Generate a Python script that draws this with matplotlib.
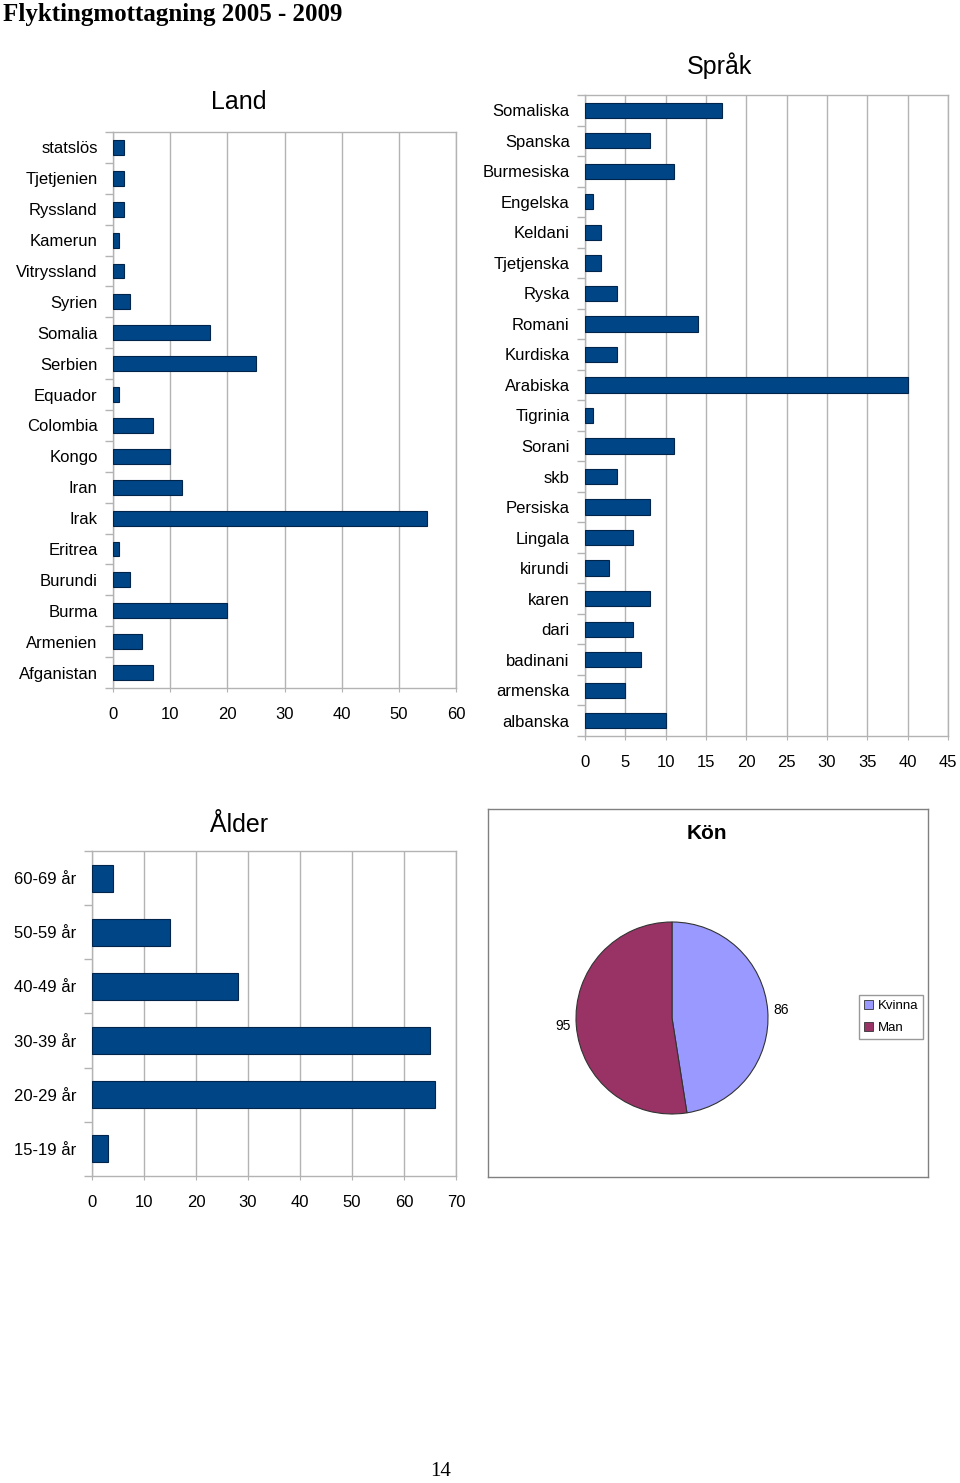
import matplotlib
matplotlib.use('Agg')
import matplotlib.pyplot as plt
from matplotlib.patches import Patch
import numpy as np

plt.rcParams['font.family'] = ['Liberation Sans', 'DejaVu Sans']

# data, top to bottom as in the original
land = ['statslös', 'Tjetjenien', 'Ryssland', 'Kamerun', 'Vitryssland', 'Syrien', 'Somalia', 'Serbien',
        'Equador', 'Colombia', 'Kongo', 'Iran', 'Irak', 'Eritrea', 'Burundi', 'Burma', 'Armenien', 'Afganistan']
land_n = [2, 2, 2, 1, 2, 3, 17, 25, 1, 7, 10, 12, 55, 1, 3, 20, 5, 7]

sprak = ['Somaliska', 'Spanska', 'Burmesiska', 'Engelska', 'Keldani', 'Tjetjenska', 'Ryska', 'Romani',
         'Kurdiska', 'Arabiska', 'Tigrinia', 'Sorani', 'skb', 'Persiska', 'Lingala', 'kirundi', 'karen',
         'dari', 'badinani', 'armenska', 'albanska']
sprak_n = [17, 8, 11, 1, 2, 2, 4, 14, 4, 40, 1, 11, 4, 8, 6, 3, 8, 6, 7, 5, 10]

alder = ['60-69 år', '50-59 år', '40-49 år', '30-39 år', '20-29 år', '15-19 år']
alder_n = [4, 15, 28, 65, 66, 3]

kon = ['Kvinna', 'Man']
kon_n = [86, 95]

W, H = 960, 1483
BAR = '#004586'
EDGE = '#00244a'
GRID = '#b3b3b3'


def box(l, t, r, b):
    return [l / W, 1 - b / H, (r - l) / W, (b - t) / H]


def barchart(ax, cats, vals, xmax, step, hgt):
    n = len(cats)
    y = np.arange(n)
    ax.barh(y, vals, height=hgt, color=BAR, edgecolor=EDGE, linewidth=0.8, zorder=3)
    ax.set_ylim(n - 0.5, -0.5)
    ax.set_xlim(0, xmax)
    ax.set_xticks(np.arange(0, xmax + 1, step))
    ax.set_yticks(y)
    ax.set_yticklabels(cats)
    ax.set_yticks(np.arange(-0.5, n, 1), minor=True)
    ax.tick_params(axis='y', which='major', length=0, pad=11, labelsize=12)
    ax.tick_params(axis='y', which='minor', length=6, color=GRID, width=1)
    ax.tick_params(axis='x', length=3, color=GRID, pad=11, labelsize=12)
    ax.grid(axis='x', color=GRID, linewidth=1, zorder=0)
    for s in ax.spines.values():
        s.set_color(GRID)
        s.set_linewidth(1)


fig = plt.figure(figsize=(9.6, 14.83), dpi=100)

fig.text(3 / W, 1 - 14 / H, 'Flyktingmottagning 2005 - 2009', family='Liberation Serif',
         weight='bold', fontsize=18, ha='left', va='center')

ax1 = fig.add_axes(box(113, 132, 456, 688))
barchart(ax1, land, land_n, 60, 10, 0.48)
fig.text(239 / W, 1 - 102 / H, 'Land', fontsize=18, ha='center', va='center')

ax2 = fig.add_axes(box(585, 95, 948, 736))
barchart(ax2, sprak, sprak_n, 45, 5, 0.5)
fig.text(720 / W, 1 - 66 / H, 'Språk', fontsize=18, ha='center', va='center')

ax3 = fig.add_axes(box(92, 851, 456, 1176))
barchart(ax3, alder, alder_n, 70, 10, 0.5)
fig.text(239 / W, 1 - 825 / H, 'Ålder', fontsize=18, ha='center', va='center')

# Kön box
axb = fig.add_axes(box(488, 809, 928, 1177))
axb.set_xticks([])
axb.set_yticks([])
for s in axb.spines.values():
    s.set_color('#808080')
    s.set_linewidth(1)
fig.text(707 / W, 1 - 834 / H, 'Kön', fontsize=15, weight='bold', ha='center', va='center')

axp = fig.add_axes(box(672 - 120, 1018 - 120, 672 + 120, 1018 + 120))
axp.pie(kon_n, labels=[str(v) for v in kon_n], colors=['#9999ff', '#993366'], startangle=90,
        counterclock=False, labeldistance=1.06, radius=1,
        wedgeprops=dict(edgecolor='#333333', linewidth=0.8), textprops=dict(fontsize=10))
axp.set_xlim(-1.25, 1.25)
axp.set_ylim(-1.25, 1.25)
axp.set_aspect('equal')
axp.axis('off')

handles = [Patch(facecolor=c, edgecolor='#333333', linewidth=0.6) for c in ['#9999ff', '#993366']]
leg = fig.legend(handles, kon, loc='upper left', bbox_to_anchor=(859 / W, 1 - 995 / H), fontsize=9.5,
                 frameon=True, fancybox=False, edgecolor='#808080', handlelength=0.7, handleheight=0.7,
                 handletextpad=0.4, borderpad=0.35, labelspacing=0.75, borderaxespad=0)
leg.get_frame().set_linewidth(1)

fig.text(441 / W, 1 - 1471 / H, '14', family='Liberation Serif', fontsize=15, ha='center', va='center')

plt.savefig('out.png', dpi=100)
